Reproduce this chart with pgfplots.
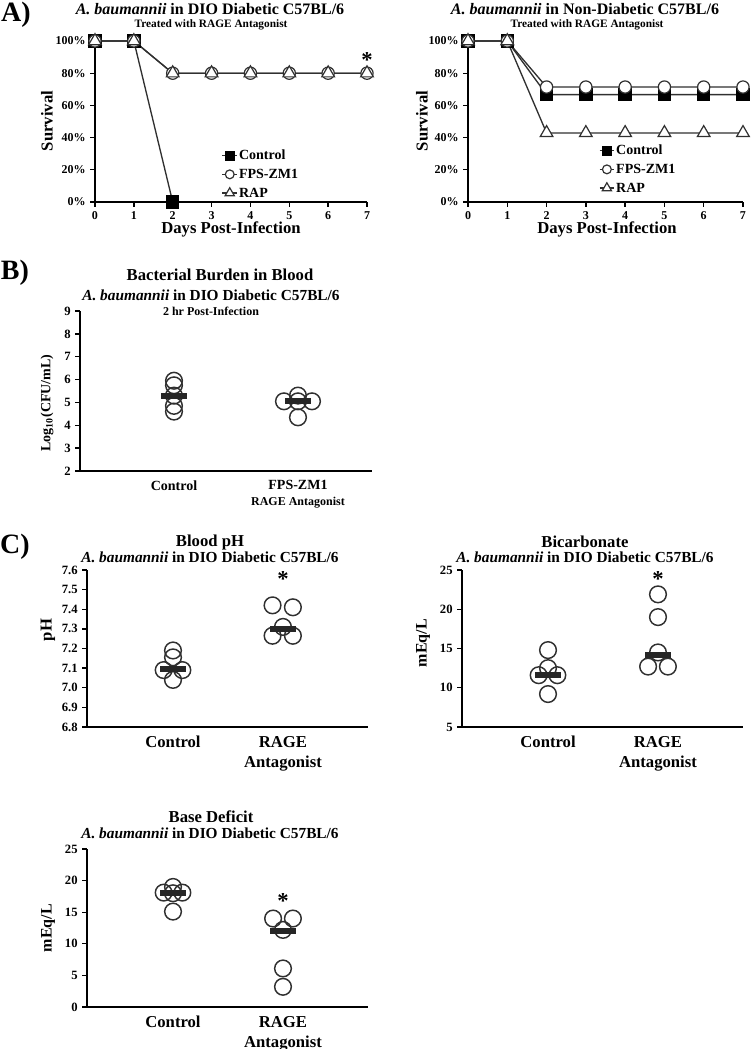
\documentclass[border=0pt]{standalone}
\usepackage{pgfplots}
\pgfplotsset{compat=1.18}
\usepackage{fontspec}
\setmainfont{Liberation Serif}
\definecolor{ln}{HTML}{303030}
\newcommand{\fs}[2]{\fontsize{#1}{#2}\selectfont\bfseries}
\newcommand{\T}[4]{\node[font=\fs{#3}{#3}, inner sep=0pt] at (#1*0.75pt,-#2*0.75pt) {#4};}
\newcommand{\TR}[4]{\node[font=\fs{#3}{#3}, inner sep=0pt, rotate=90] at (#1*0.75pt,-#2*0.75pt) {#4};}
\pgfplotsset{
  base/.style={scale only axis, anchor=south west, clip=false,
    axis lines*=left, axis line style={line width=1.3pt, black},
    tick style={black, line width=1pt}, major tick length=3.5pt, tick align=outside,
    /pgf/number format/assume math mode=true,
    tick label style={font=\fs{9}{10}}},
  surv/.style={base, xmin=0, xmax=7, ymin=0, ymax=100, xtick={0,...,7}, ytick={0,20,...,100},
    yticklabel={\pgfmathprintnumber{\tick}\%},
    legend style={draw=none, fill=none, anchor=north west, font=\fs{10.5}{12}, inner sep=0pt,
      row sep=2pt, nodes={inner sep=1pt, text height=8pt, text depth=2pt}},
    legend cell align=left,
    legend image code/.code={\draw[mark repeat=2, mark phase=2, #1, every mark/.append style={scale=0.72}] plot coordinates {(0pt,0pt)(5.5pt,0pt)(11pt,0pt)};}},
  dots/.style={base, xtick={1,2}, xtick style={draw=none},
    yticklabel style={font=\fs{9.5}{10}},
    xticklabel style={align=center, font=\fs{12.5}{15}}},
  sctr/.style={only marks, mark=o, mark size=6.25pt, color=ln, mark options={line width=1.1pt}},
  med/.style={only marks, mark=-, mark size=9.4pt, color=black!85, mark options={line width=4.6pt}},
  ctl/.style={ln, line width=1pt, mark=square*, mark size=4.5pt, mark options={fill=black, draw=black}},
  fps/.style={ln, line width=1pt, mark=*, mark size=4.6pt, mark options={fill=white, draw=ln, line width=0.9pt}},
  rap/.style={ln, line width=1pt, mark=triangle*, mark size=5.5pt, mark options={fill=white, draw=ln, line width=0.9pt}},
}
\begin{document}
\begin{tikzpicture}
\path[use as bounding box] (0,0) rectangle (562.5pt,-786.75pt);

% ---------- Panel A left
\begin{axis}[surv, at={(71.25pt,-151.5pt)}, width=204pt, height=120.75pt,
  legend style={at={(axis description cs:0.465,0.339)}}]
\addplot[ctl] coordinates {(0,100)(1,100)(2,0)};
\addplot[fps] coordinates {(0,100)(1,100)(2,80)(3,80)(4,80)(5,80)(6,80)(7,80)};
\addplot[rap] coordinates {(0,100)(1,100)(2,80)(3,80)(4,80)(5,80)(6,80)(7,80)};
\legend{Control,FPS-ZM1,RAP}
\node[font=\fs{17}{17}] at (axis cs:7,88) {*};
\end{axis}

% ---------- Panel A right
\begin{axis}[surv, at={(351pt,-151.5pt)}, width=206.25pt, height=120.75pt,
  legend style={at={(axis description cs:0.475,0.37)}}]
\addplot[ctl] coordinates {(0,100)(1,100)(2,66.7)(3,66.7)(4,66.7)(5,66.7)(6,66.7)(7,66.7)};
\addplot[fps] coordinates {(0,100)(1,100)(2,71.4)(3,71.4)(4,71.4)(5,71.4)(6,71.4)(7,71.4)};
\addplot[rap] coordinates {(0,100)(1,100)(2,42.9)(3,42.9)(4,42.9)(5,42.9)(6,42.9)(7,42.9)};
\legend{Control,FPS-ZM1,RAP}
\end{axis}

% ---------- Panel B
\begin{axis}[dots, at={(60pt,-353.25pt)}, width=219pt, height=120pt,
  xmin=0.242, xmax=2.597, ymin=2, ymax=9, ytick={2,...,9},
  xticklabels={Control,{FPS-ZM1\\[-1pt]{\fs{9}{11}RAGE Antagonist}}},
  xticklabel style={font=\fs{10.5}{13}}]
\addplot[sctr] coordinates {(1,5.95)(1,5.75)(1,5.3)(1,4.85)(1,4.6)};
\addplot[sctr] coordinates {(1.887,5.05)(2.113,5.05)(2,5.3)(2,5.05)(2,4.35)};
\addplot[med] coordinates {(1,5.3)(2,5.05)};
\end{axis}

% ---------- Panel C pH
\begin{axis}[dots, at={(65.25pt,-545.25pt)}, width=210.75pt, height=117.75pt,
  xmin=0.218, xmax=2.773, ymin=6.8, ymax=7.6, ytick={6.8,6.9,...,7.61},
  yticklabel style={/pgf/number format/.cd, fixed, fixed zerofill, precision=1},
  xticklabels={Control,{RAGE\\Antagonist}}]
\addplot[sctr] coordinates {(1,7.19)(1,7.155)(0.915,7.09)(1.085,7.09)(1,7.04)};
\addplot[sctr] coordinates {(1.905,7.42)(2.09,7.41)(2,7.31)(1.905,7.265)(2.09,7.265)};
\addplot[med] coordinates {(1,7.095)(2,7.30)};
\node[font=\fs{17}{17}] at (axis cs:2,7.555) {*};
\end{axis}

% ---------- Panel C bicarbonate
\begin{axis}[dots, at={(346.5pt,-545.25pt)}, width=210.75pt, height=117.75pt,
  xmin=0.218, xmax=2.773, ymin=5, ymax=25, ytick={5,10,...,25},
  xticklabels={Control,{RAGE\\Antagonist}}]
\addplot[sctr] coordinates {(1,14.8)(1,12.5)(0.915,11.6)(1.085,11.6)(1,9.2)};
\addplot[sctr] coordinates {(2,21.9)(2,19.0)(2,14.5)(1.91,12.7)(2.09,12.7)};
\addplot[med] coordinates {(1,11.6)(2,14.2)};
\node[font=\fs{17}{17}] at (axis cs:2,23.9) {*};
\end{axis}

% ---------- Panel C base deficit
\begin{axis}[dots, at={(65.25pt,-755.25pt)}, width=210.75pt, height=118.5pt,
  xmin=0.218, xmax=2.773, ymin=0, ymax=25, ytick={0,5,...,25},
  xticklabels={Control,{RAGE\\Antagonist}}]
\addplot[sctr] coordinates {(1,19.0)(0.915,18.1)(1.085,18.1)(1,18.0)(1,15.1)};
\addplot[sctr] coordinates {(1.91,14.0)(2.09,14.0)(2,12.2)(2,6.1)(2,3.2)};
\addplot[med] coordinates {(1,18.0)(2,12.0)};
\node[font=\fs{17}{17}] at (axis cs:2,16.8) {*};
\end{axis}

% ---------- texts
\T{16}{15}{21}{A)}
\T{210}{9}{12}{\textit{A. baumannii} in DIO Diabetic C57BL/6}
\T{211}{25}{8.5}{Treated with RAGE Antagonist}
\T{585}{9}{12}{\textit{A. baumannii} in Non-Diabetic C57BL/6}
\T{587}{25}{8.5}{Treated with RAGE Antagonist}
\T{231}{229}{12.5}{Days Post-Infection}
\T{607}{229}{12.5}{Days Post-Infection}
\TR{47}{121}{12.5}{Survival}
\TR{422}{121}{12.5}{Survival}

\T{15}{273}{21}{B)}
\T{220}{275}{12.5}{Bacterial Burden in Blood}
\T{211}{295}{11.5}{\textit{A. baumannii} in DIO Diabetic C57BL/6}
\T{211}{311}{9}{2 hr Post-Infection}
\TR{47}{403}{10.5}{Log\textsubscript{10}(CFU/mL)}

\T{15}{547}{21}{C)}
\T{210}{542}{12.5}{Blood pH}
\T{210}{557}{11.5}{\textit{A. baumannii} in DIO Diabetic C57BL/6}
\T{585}{542}{12.5}{Bicarbonate}
\T{585}{557}{11.5}{\textit{A. baumannii} in DIO Diabetic C57BL/6}
\TR{48}{630}{12.5}{pH}
\TR{423}{643}{12}{mEq/L}

\T{211}{817}{12.5}{Base Deficit}
\T{210}{833}{11.5}{\textit{A. baumannii} in DIO Diabetic C57BL/6}
\TR{48}{928}{12}{mEq/L}
\end{tikzpicture}
\end{document}
